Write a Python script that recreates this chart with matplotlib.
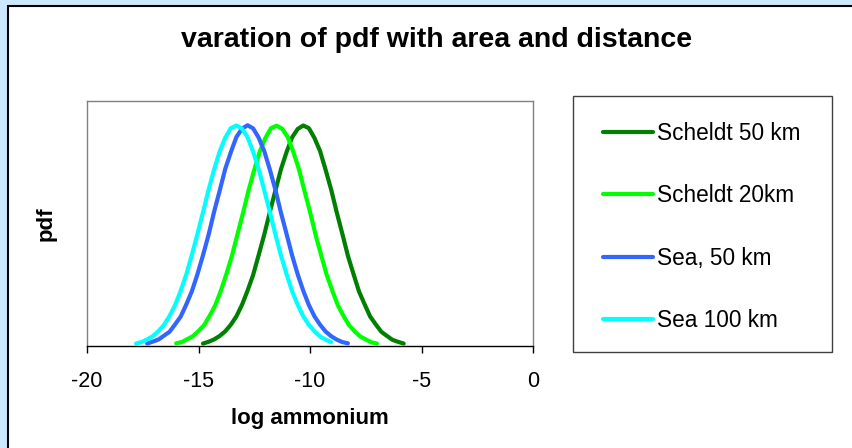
import matplotlib
matplotlib.use('Agg')
import matplotlib.pyplot as plt
from matplotlib.patches import Rectangle

plt.rcParams['font.family'] = ['Liberation Sans', 'DejaVu Sans']

# data (x = log ammonium, y = pdf)
x_scheldt50 = [-14.8, -14.55, -14.3, -14.05, -13.8, -13.55, -13.3, -13.05, -12.8, -12.55,
               -12.3, -12.05, -11.8, -11.55, -11.3, -11.05, -10.8, -10.55, -10.3, -10.05,
               -9.8, -9.55, -9.3, -9.05, -8.8, -8.55, -8.3, -8.05, -7.8, -7.55,
               -7.3, -7.05, -6.8, -6.55, -6.3, -6.05, -5.8]
y_scheldt50 = [0.010, 0.017, 0.027, 0.041, 0.060, 0.087, 0.121, 0.168, 0.226, 0.290,
               0.372, 0.455, 0.547, 0.635, 0.722, 0.792, 0.852, 0.886, 0.900, 0.889,
               0.849, 0.796, 0.719, 0.638, 0.545, 0.458, 0.368, 0.294, 0.222, 0.170,
               0.120, 0.088, 0.058, 0.041, 0.025, 0.017, 0.010]

x_scheldt20 = [-16.0, -15.75, -15.5, -15.25, -15.0, -14.75, -14.5, -14.25, -14.0, -13.75,
               -13.5, -13.25, -13.0, -12.75, -12.5, -12.25, -12.0, -11.75, -11.5, -11.25,
               -11.0, -10.75, -10.5, -10.25, -10.0, -9.75, -9.5, -9.25, -9.0, -8.75,
               -8.5, -8.25, -8.0, -7.75, -7.5, -7.25, -7.0]
y_scheldt20 = [0.011, 0.016, 0.028, 0.040, 0.061, 0.085, 0.123, 0.166, 0.225, 0.293,
               0.368, 0.457, 0.544, 0.637, 0.719, 0.795, 0.849, 0.889, 0.899, 0.887,
               0.853, 0.793, 0.723, 0.634, 0.548, 0.454, 0.371, 0.290, 0.226, 0.166,
               0.123, 0.085, 0.060, 0.039, 0.027, 0.015, 0.010]

x_sea50 = [-17.3, -17.05, -16.8, -16.55, -16.3, -16.05, -15.8, -15.55, -15.3, -15.05,
           -14.8, -14.55, -14.3, -14.05, -13.8, -13.55, -13.3, -13.05, -12.8, -12.55,
           -12.3, -12.05, -11.8, -11.55, -11.3, -11.05, -10.8, -10.55, -10.3, -10.05,
           -9.8, -9.55, -9.3, -9.05, -8.8, -8.55, -8.3]
y_sea50 = [0.010, 0.018, 0.026, 0.042, 0.058, 0.088, 0.120, 0.169, 0.223, 0.292,
           0.370, 0.453, 0.548, 0.634, 0.723, 0.791, 0.853, 0.887, 0.901, 0.888,
           0.850, 0.795, 0.720, 0.637, 0.543, 0.457, 0.369, 0.292, 0.225, 0.167,
           0.121, 0.087, 0.059, 0.040, 0.026, 0.016, 0.011]

x_sea100 = [-17.8, -17.55, -17.3, -17.05, -16.8, -16.55, -16.3, -16.05, -15.8, -15.55,
            -15.3, -15.05, -14.8, -14.55, -14.3, -14.05, -13.8, -13.55, -13.3, -13.05,
            -12.8, -12.55, -12.3, -12.05, -11.8, -11.55, -11.3, -11.05, -10.8, -10.55,
            -10.3, -10.05, -9.8, -9.55, -9.3, -9.05]
y_sea100 = [0.010, 0.016, 0.027, 0.040, 0.060, 0.086, 0.122, 0.167, 0.225, 0.291,
            0.371, 0.456, 0.545, 0.637, 0.720, 0.794, 0.850, 0.889, 0.900, 0.887,
            0.852, 0.793, 0.722, 0.635, 0.547, 0.455, 0.369, 0.293, 0.223, 0.168,
            0.121, 0.086, 0.060, 0.039, 0.026, 0.016]

labels = ['Scheldt 50 km', 'Scheldt 20km', 'Sea, 50 km', 'Sea 100 km']
colors = ['#008000', '#00FF00', '#3366FF', '#00FFFF']
xticks = [-20, -15, -10, -5, 0]

W, H = 852, 448
fig = plt.figure(figsize=(W / 100, H / 100), dpi=100)
fig.patch.set_facecolor('#CCE8FF')

# white chart area with black frame
fig.patches.append(Rectangle((8 / W, -0.01), 1.0, (448 - 6) / H + 0.01, transform=fig.transFigure,
                             facecolor='white', edgecolor='black', linewidth=1.5, zorder=-2))
# legend box
fig.patches.append(Rectangle((573 / W, (H - 352) / H), 259 / W, 256 / H, transform=fig.transFigure,
                             facecolor='white', edgecolor='#404040', linewidth=1.0, zorder=-1))

ax = fig.add_axes([87 / W, (H - 346) / H, 446 / W, 245 / H])
ax.set_zorder(3)
ax.set_facecolor('white')

series = [(x_scheldt50, y_scheldt50), (x_scheldt20, y_scheldt20),
          (x_sea50, y_sea50), (x_sea100, y_sea100)]
for (xs, ys), lab, c in zip(series, labels, colors):
    ax.plot(xs, ys, color=c, linewidth=3, label=lab, solid_capstyle='round')

ax.set_xlim(-20, 0)
ax.set_ylim(0, 1)
ax.set_xticks(xticks)
ax.set_xticklabels([str(t) for t in xticks], fontsize=15.5)
ax.set_yticks([])
ax.tick_params(axis='x', direction='out', length=5, width=1, color='black', pad=13)
for s in ['top', 'left', 'right']:
    ax.spines[s].set_color('#808080')
    ax.spines[s].set_linewidth(1)
ax.spines['bottom'].set_color('black')
ax.spines['bottom'].set_linewidth(1)

ax.set_xlabel('log ammonium', fontsize=16, fontweight='bold', labelpad=11.5)
ax.set_ylabel('pdf', fontsize=16, fontweight='bold', labelpad=22)
fig.text(437 / W, 1 - 40 / H, 'varation of pdf with area and distance',
         ha='center', va='center', fontsize=20.5, fontweight='bold')

leg = ax.legend(loc='upper left', bbox_to_anchor=(603 / W, 1 - 122 / H),
                bbox_transform=fig.transFigure, frameon=False, fontsize=16.3,
                handlelength=2.2, handletextpad=0.18, labelspacing=1.74, borderpad=0,
                borderaxespad=0)

fig.savefig('out.png', dpi=100, facecolor=fig.get_facecolor())
